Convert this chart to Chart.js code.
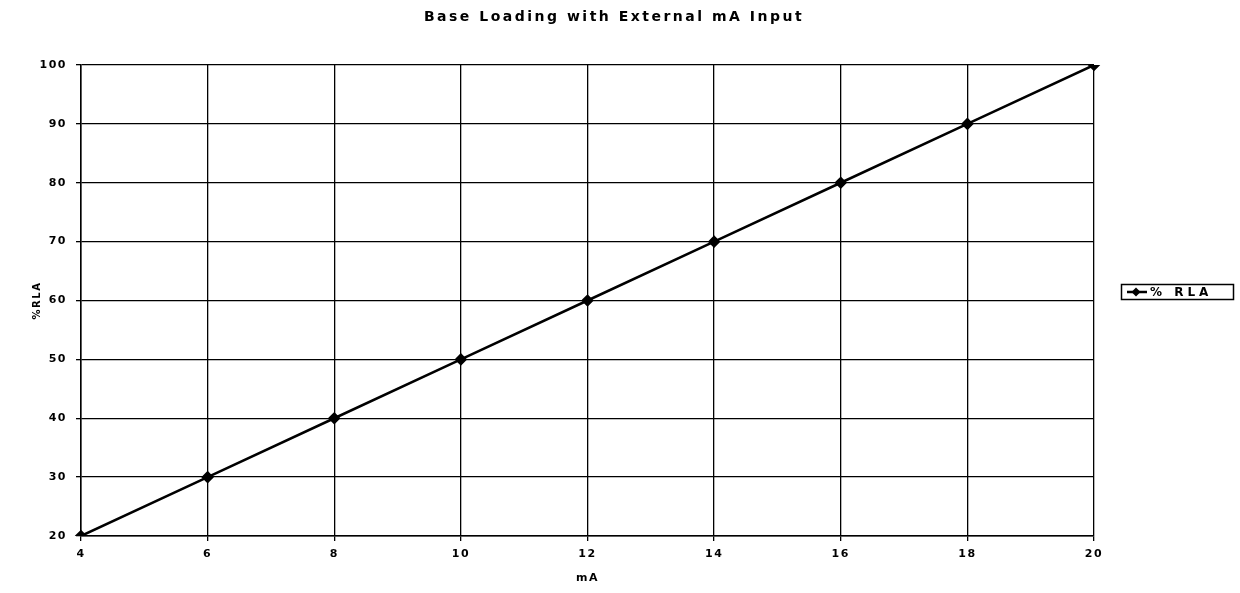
<!DOCTYPE html>
<html>
<head>
<meta charset="utf-8">
<script src="https://cdn.jsdelivr.net/npm/chart.js@4/dist/chart.umd.min.js"></script>
<style>
  html, body { margin: 0; padding: 0; background: #fff; }
  #wrap { width: 1240px; height: 593px; }
</style>
</head>
<body>
<div id="wrap"><canvas id="myChart" width="1240" height="593"></canvas></div>
<script>
var chartTitle = 'Base Loading with External mA Input';
var mA = ['4', '6', '8', '10', '12', '14', '16', '18', '20'];
var rla = [20, 30, 40, 50, 60, 70, 80, 90, 100];
var seriesLabel = '% RLA';

var FONT = '"DejaVu Sans", Arial, sans-serif';

// letter spacing, white background, title and a boxed legend on the right
var paperPlugin = {
    id: 'paper',
    beforeDraw: function (chart) {
        var ctx = chart.ctx;
        ctx.save();
        ctx.fillStyle = '#fff';
        ctx.fillRect(0, 0, chart.width, chart.height);
        ctx.restore();
        ctx.letterSpacing = '1.5px';
    },
    afterDraw: function (chart) {
        var ctx = chart.ctx;
        ctx.save();
        ctx.fillStyle = '#000';
        ctx.strokeStyle = '#000';

        // title
        ctx.letterSpacing = '2.5px';
        ctx.font = 'bold 14px ' + FONT;
        ctx.textAlign = 'center';
        ctx.textBaseline = 'middle';
        ctx.fillText(chartTitle, 614, 17);

        // legend
        ctx.lineWidth = 1.5;
        ctx.strokeRect(1121.5, 284.5, 112, 15);
        ctx.lineWidth = 2.5;
        ctx.beginPath();
        ctx.moveTo(1127, 292);
        ctx.lineTo(1147, 292);
        ctx.stroke();
        ctx.beginPath();
        ctx.moveTo(1136, 287.5);
        ctx.lineTo(1140.5, 292);
        ctx.lineTo(1136, 296.5);
        ctx.lineTo(1131.5, 292);
        ctx.closePath();
        ctx.fill();
        ctx.letterSpacing = '4px';
        ctx.font = 'bold 12px ' + FONT;
        ctx.textAlign = 'left';
        ctx.fillText(seriesLabel, 1150, 292.5);
        ctx.restore();
    }
};

var canvas = document.getElementById('myChart');
var ctx = canvas.getContext('2d');

var myChart = new Chart(ctx, {
    type: 'line',
    data: {
        labels: mA,
        datasets: [{
            label: seriesLabel,
            data: rla,
            borderColor: '#000',
            backgroundColor: '#000',
            borderWidth: 2.5,
            pointStyle: 'rectRot',
            pointRadius: 4.5,
            pointBackgroundColor: '#000',
            pointBorderColor: '#000',
            tension: 0
        }]
    },
    options: {
        responsive: false,
        animation: false,
        layout: {
            padding: { left: 0, top: 65, right: 146, bottom: 0 }
        },
        scales: {
            x: {
                type: 'category',
                offset: false,
                grid: {
                    color: '#000',
                    lineWidth: 1.3,
                    tickLength: 5,
                    offset: false
                },
                border: { color: '#000', width: 1.5 },
                ticks: {
                    color: '#000',
                    padding: 7,
                    maxRotation: 0,
                    font: { family: FONT, size: 11, weight: 'bold' }
                },
                title: {
                    display: true,
                    text: 'mA',
                    color: '#000',
                    padding: { top: 0, bottom: 8 },
                    font: { family: FONT, size: 11, weight: 'bold' }
                },
                afterFit: function (scale) { scale.height = 57; }
            },
            y: {
                min: 20,
                max: 100,
                grid: {
                    color: '#000',
                    lineWidth: 1.3,
                    tickLength: 5
                },
                border: { color: '#000', width: 1.5 },
                ticks: {
                    stepSize: 10,
                    color: '#000',
                    padding: 9,
                    font: { family: FONT, size: 11, weight: 'bold' }
                },
                title: {
                    display: true,
                    text: '%RLA',
                    color: '#000',
                    padding: { top: 31, bottom: 0 },
                    font: { family: FONT, size: 10, weight: 'bold' }
                },
                afterFit: function (scale) { scale.width = 81; }
            }
        },
        plugins: {
            legend: { display: false },
            title: { display: false },
            tooltip: { enabled: false }
        }
    },
    plugins: [paperPlugin]
});
</script>
</body>
</html>
